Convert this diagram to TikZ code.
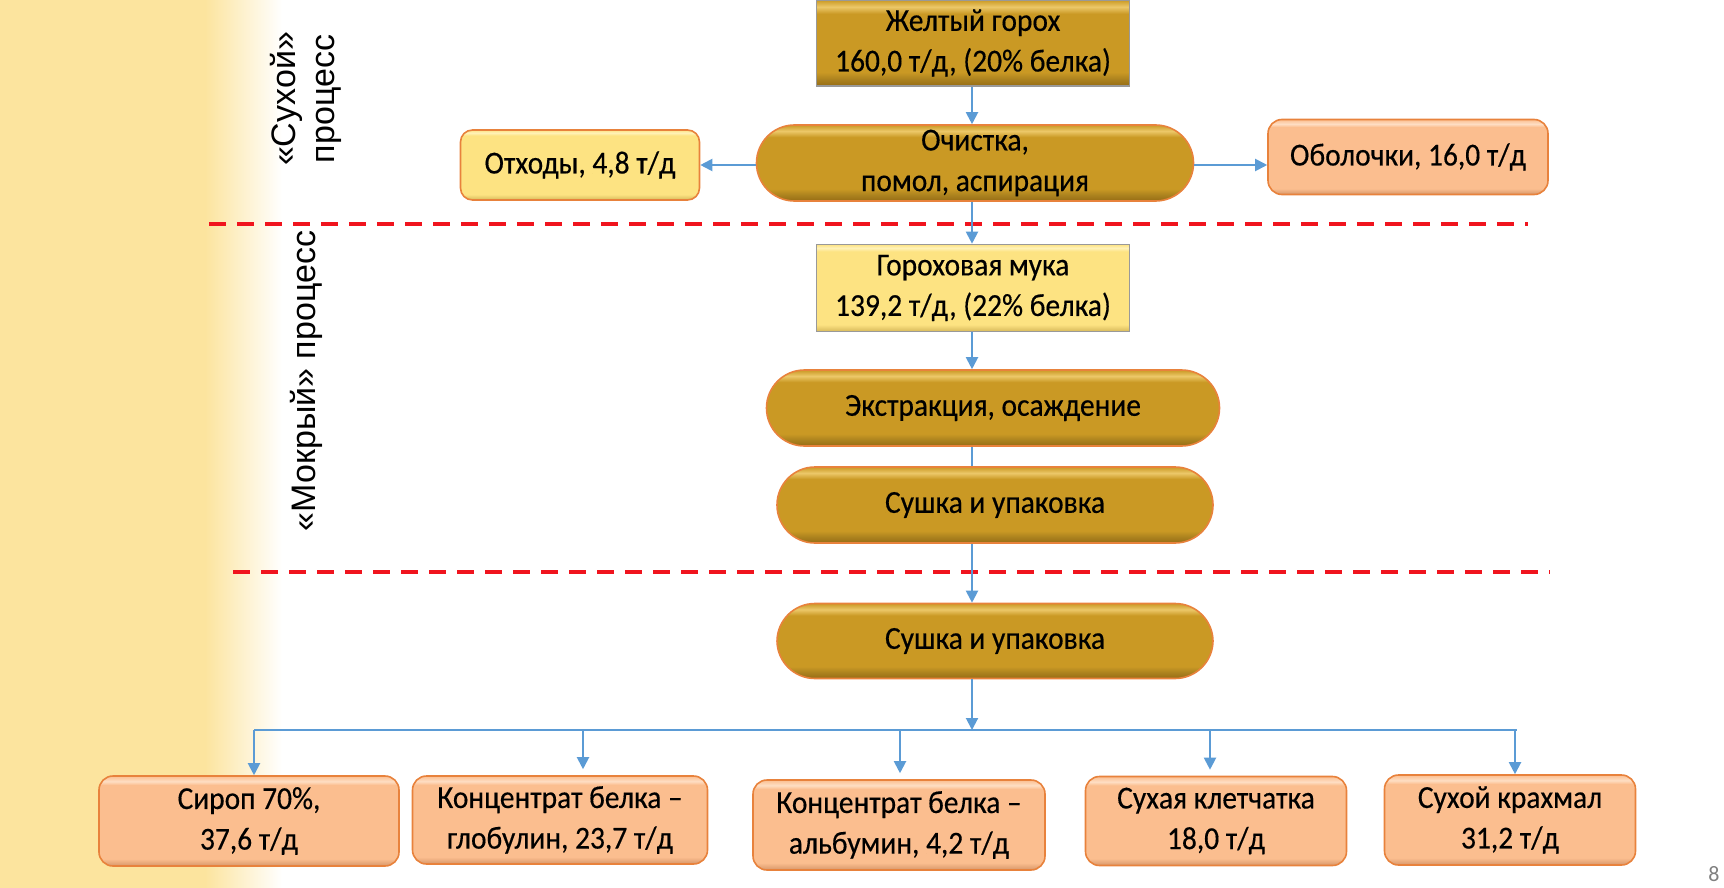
\documentclass[tikz,border=0pt]{standalone}
\usepackage{fontspec}
\setmainfont{Carlito}[FakeStretch=0.92,FakeBold=0.35]
\newfontfamily\arialf{Liberation Sans}
\newfontfamily\pagef{Carlito}
\usetikzlibrary{arrows.meta}

\definecolor{band}{RGB}{252,228,158}
\definecolor{gold}{RGB}{202,153,36}
\definecolor{goldlight}{RGB}{236,200,105}
\definecolor{golddark}{RGB}{150,108,20}
\definecolor{lyellow}{RGB}{253,227,130}
\definecolor{lyellowlight}{RGB}{255,242,185}
\definecolor{lyellowdark}{RGB}{215,185,90}
\definecolor{peach}{RGB}{251,190,143}
\definecolor{peachlight}{RGB}{254,222,196}
\definecolor{peachdark}{RGB}{215,150,105}
\definecolor{oborder}{RGB}{232,130,60}
\definecolor{arrowblue}{RGB}{91,155,213}
\definecolor{dashred}{RGB}{240,20,30}

\pgfdeclareverticalshading{goldbev}{100bp}{color(0bp)=(golddark); color(25bp)=(golddark); color(29bp)=(gold!85!black); color(33bp)=(gold); color(67bp)=(gold); color(71bp)=(goldlight); color(75bp)=(gold); color(100bp)=(gold)}
\pgfdeclareverticalshading{yelbev}{100bp}{color(0bp)=(lyellowdark); color(25bp)=(lyellowdark); color(29bp)=(lyellow); color(71bp)=(lyellow); color(73bp)=(lyellowlight); color(75bp)=(lyellow); color(100bp)=(lyellow)}
\pgfdeclareverticalshading{peachbev}{100bp}{color(0bp)=(peachdark); color(25bp)=(peachdark); color(29bp)=(peach); color(70bp)=(peach); color(72bp)=(peachlight); color(75bp)=(peach); color(100bp)=(peach)}

\begin{document}
\begin{tikzpicture}[x=0.5pt,y=-0.5pt,
  txt/.style={font=\fontsize{16pt}{20.3pt}\selectfont, align=center, text=black, inner sep=0pt},
  pill/.style={txt, draw=oborder, line width=0.8pt, shading=goldbev, rounded corners=19pt, minimum height=38pt},
  goldbox/.style={txt, draw=gray!80, line width=0.8pt, shading=goldbev, minimum width=156.5pt, minimum height=43pt},
  ybox/.style={txt, draw=gray!80, line width=0.8pt, shading=yelbev, minimum width=156.5pt, minimum height=43.5pt},
  yrbox/.style={txt, draw=oborder, line width=0.8pt, shading=yelbev, rounded corners=6pt},
  pbox/.style={txt, draw=oborder, line width=0.8pt, shading=peachbev, rounded corners=7pt},
  conn/.style={draw=arrowblue, line width=1pt},
  arr/.style={conn, -{Triangle[width=6pt,length=6pt]}},
  sep/.style={draw=dashred, line width=2pt, dash pattern=on 8.5pt off 5.5pt},
  side/.style={font=\arialf\fontsize{17pt}{19.5pt}\selectfont, align=center, rotate=90, inner sep=0pt}
]
\useasboundingbox (0,0) rectangle (1724,888);
% background band
\fill[band] (0,0) rectangle (206,888);
\shade[left color=band, right color=white] (205,0) rectangle (282,888);

% side labels
\node[side] (dry) at (306,99) {«Сухой»\\процесс};
\node[side] (wet) at (306,381) {«Мокрый» процесс};

% separators
\coordinate (s1a) at (209,224);
\coordinate (s1b) at (1528,224);
\coordinate (s2a) at (233,572);
\coordinate (s2b) at (1550,572);
\draw[sep] (s1a) -- (s1b);
\draw[sep] (s2a) -- (s2b);

% nodes
\node[goldbox] (pea) at (973,43) {Желтый горох\\160,0 т/д, (20\% белка)};
\node[pill, minimum width=218.5pt] (clean) at (975,163) {Очистка,\\помол, аспирация};
\node[yrbox, minimum width=119.5pt, minimum height=35pt] (waste) at (580,165) {Отходы, 4,8 т/д};
\node[pbox, minimum width=140pt, minimum height=37.5pt] (hull) at (1408,157) {Оболочки, 16,0 т/д};
\node[ybox] (flour) at (973,288) {Гороховая мука\\139,2 т/д, (22\% белка)};
\node[pill, minimum width=226.5pt] (extr) at (993,408) {Экстракция, осаждение};
\node[pill, minimum width=218pt] (dry1) at (995,505) {Сушка и упаковка};
\node[pill, minimum width=218pt, minimum height=37.5pt] (dry2) at (995,641) {Сушка и упаковка};

\node[pbox, minimum width=150pt, minimum height=45pt] (b1) at (249,821) {Сироп 70\%,\\37,6 т/д};
\node[pbox, minimum width=147.5pt, minimum height=44pt] (b2) at (560,820) {Концентрат белка –\\глобулин, 23,7 т/д};
\node[pbox, minimum width=146pt, minimum height=45pt] (b3) at (899,825) {Концентрат белка –\\альбумин, 4,2 т/д};
\node[pbox, minimum width=130.5pt, minimum height=44.5pt] (b4) at (1216,821) {Сухая клетчатка\\18,0 т/д};
\node[pbox, minimum width=125.5pt, minimum height=45pt] (b5) at (1510,820) {Сухой крахмал\\31,2 т/д};

\node[font=\pagef\fontsize{11pt}{12pt}\selectfont, text=gray, inner sep=0pt] (pagenum) at (1714,874) {8};

% connectors
\coordinate (main) at (972,0);
\draw[arr] (main |- pea.south) -- (main |- clean.north);
\draw[arr] (clean.west |- 0,165) -- (waste.east |- 0,165);
\draw[arr] (clean.east |- 0,165) -- (hull.west |- 0,165);
\draw[arr] (main |- clean.south) -- (main |- flour.north);
\draw[arr] (main |- flour.south) -- (main |- extr.north);
\draw[conn] (main |- extr.south) -- (main |- dry1.north);
\draw[arr] (main |- dry1.south) -- (main |- dry2.north);

\coordinate (hl) at (254,730);
\coordinate (hr) at (1517,730);
\coordinate (hm) at (972,730);
\draw[conn] (hl) -- (hr);
\draw[arr] (main |- dry2.south) -- (hm);

\coordinate (d1) at (254,730);
\coordinate (d2) at (583,730);
\coordinate (d3) at (900,730);
\coordinate (d4) at (1210,730);
\coordinate (d5) at (1515,730);
\draw[arr] (d1) -- (d1 |- b1.north);
\draw[arr] (d2) -- ([yshift=3pt]d2 |- b2.north);
\draw[arr] (d3) -- ([yshift=3pt]d3 |- b3.north);
\draw[arr] (d4) -- ([yshift=3pt]d4 |- b4.north);
\draw[arr] (d5) -- (d5 |- b5.north);
\end{tikzpicture}
\end{document}
